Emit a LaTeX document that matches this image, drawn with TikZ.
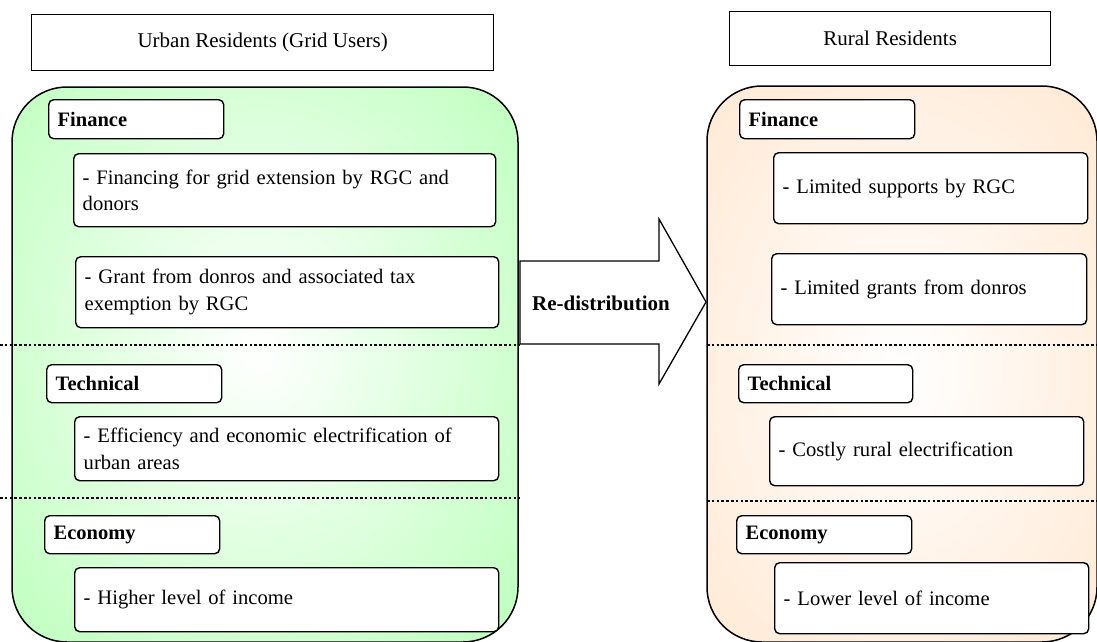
\documentclass[tikz,border=0pt]{standalone}
\usepackage{fontspec}
\setmainfont{Liberation Serif}
\definecolor{grn}{RGB}{177,255,177}
\definecolor{peach}{RGB}{255,227,200}
\tikzset{
  ttlbox/.style={draw, line width=1.3pt, fill=white, align=center, inner sep=0pt,
    anchor=north west, font=\fontsize{21}{26}\selectfont},
  txtbox/.style={draw, line width=1.4pt, fill=white, rounded corners=5pt, inner xsep=9pt,
    inner ysep=0pt, align=left, anchor=north west, font=\fontsize{20.6}{26.5}\selectfont},
  hdrbox/.style={txtbox, font=\fontsize{20.5}{24}\selectfont\bfseries},
  panelline/.style={draw, line width=1.5pt, rounded corners=55pt},
  divider/.style={line width=2.6pt, dash pattern=on 2.6pt off 2.2pt},
}
% box from its top-left (x1,y1) to bottom-right (x2,y2)
\newcommand\cellbox[7]{%
  \pgfmathsetmacro\cw{#4-#2}\pgfmathsetmacro\ch{#5-#3}\pgfmathsetmacro\tw{#4-#2-18}%
  \node[#1, minimum width=\cw pt, minimum height=\ch pt, text width=\tw pt] (#6) at (#2,#3) {#7};}
\begin{document}
\begin{tikzpicture}[x=1pt,y=-1pt]
\useasboundingbox (0,0) rectangle (1097,641);

% urban panel with soft glow
\begin{scope}
  \clip[rounded corners=55pt] (12,87) rectangle (518,642);
  \fill[grn] (12,87) rectangle (518,642);
  \shade[inner color=white, outer color=grn] (258,350) ellipse (420 and 500);
\end{scope}
\path[panelline] (12,87) rectangle (518,642);

% rural panel with soft glow
\begin{scope}
  \clip[rounded corners=55pt] (707,86) rectangle (1097,642);
  \fill[peach] (707,86) rectangle (1097,642);
  \shade[inner color=white, outer color=peach] (900,370) ellipse (360 and 500);
\end{scope}
\path[panelline] (707,86) rectangle (1097,642);

% section dividers
\draw[divider] (0,345) -- (520,345);
\draw[divider] (0,498) -- (520,498);
\draw[divider] (707,345) -- (1097,345);
\draw[divider] (707,501) -- (1097,501);

% titles
\node[ttlbox, minimum width=462pt, minimum height=56pt] (urban) at (31,14) {Urban Residents (Grid Users)};
\node[ttlbox, minimum width=321pt, minimum height=54pt] (rural) at (729,11) {Rural Residents};

% urban side
\cellbox{hdrbox}{48}{99}{223}{138}{ufin}{Finance}
\cellbox{txtbox}{73}{153}{495}{226}{ufinA}{- Financing for grid extension by RGC and\\donors}
\cellbox{txtbox}{75}{256}{498}{327}{ufinB}{- Grant from donros and associated tax\\exemption by RGC}
\cellbox{hdrbox}{46}{364}{221}{402}{utech}{Technical}
\cellbox{txtbox}{74}{416}{498}{480}{utechA}{- Efficiency and economic electrification of\\urban areas}
\cellbox{hdrbox}{44}{515}{219}{553}{ueco}{Economy}
\cellbox{txtbox}{74}{567}{498}{631}{uecoA}{- Higher level of income}

% rural side
\cellbox{hdrbox}{739}{99}{914}{138}{rfin}{Finance}
\cellbox{txtbox}{773}{152}{1087}{223}{rfinA}{- Limited supports by RGC}
\cellbox{txtbox}{771}{253}{1086}{324}{rfinB}{- Limited grants from donros}
\cellbox{hdrbox}{738}{364}{912}{402}{rtech}{Technical}
\cellbox{txtbox}{769}{416}{1083}{485}{rtechA}{- Costly rural electrification}
\cellbox{hdrbox}{736}{515}{911}{553}{reco}{Economy}
\cellbox{txtbox}{774}{562}{1088}{633}{recoA}{- Lower level of income}

% re-distribution block arrow
\draw[line width=1.3pt, fill=white, line join=miter]
  (520,261) -- (659,261) -- (659,219) -- (706,302) -- (659,384) -- (659,344) -- (520,344) -- cycle;
\node[font=\fontsize{21}{24}\selectfont\bfseries, inner sep=0pt] (redist) at (601,303) {Re-distribution};
\end{tikzpicture}
\end{document}
